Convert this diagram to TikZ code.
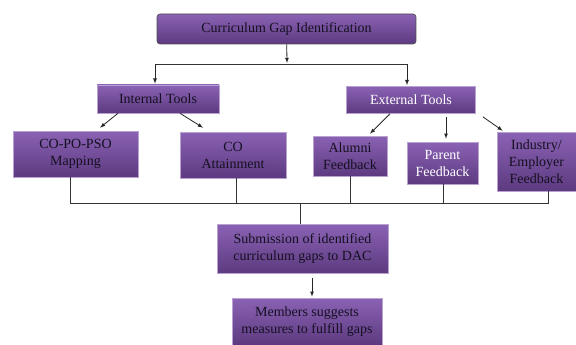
\documentclass[tikz,border=0pt]{standalone}
\usepackage{fontspec}
\setmainfont{Liberation Serif}
\usetikzlibrary{positioning}
\usetikzlibrary{arrows.meta}
\definecolor{boxtop}{HTML}{8A62B4}
\definecolor{boxbot}{HTML}{5D3A80}
\definecolor{boxtxt}{HTML}{141020}
\tikzset{
    gapbox/.style = {rectangle, draw=boxtop!60!white, line width=0.6pt, top color=boxtop, bottom color=boxbot, align=center, text=boxtxt, font=\fontsize{14}{17}\selectfont, inner sep=1pt},
    gapboxw/.style = {gapbox, text=white},
    edgen/.style = {-latex, line width=0.8pt, black!85},
    linen/.style = {line width=0.8pt, black!80}
}
\begin{document}
\begin{tikzpicture}[x=1pt,y=-1pt]
\path[use as bounding box] (0,0) rectangle (576,345);
%
\node[gapbox,rounded corners=3pt,draw=black!70,minimum width=259pt,minimum height=30pt] at (286.5,29) (top) {Curriculum Gap Identification};
\node[gapbox,minimum width=122pt,minimum height=28pt] at (158,99) (int) {Internal Tools};
\node[gapboxw,minimum width=129pt,minimum height=27pt] at (411,100) (ext) {External Tools};
%
\node[gapbox,minimum width=125pt,minimum height=46pt] at (75.5,154) (copo) {CO-PO-PSO\\Mapping};
\node[gapbox,minimum width=106pt,minimum height=46pt] at (233,155) (coatt) {CO\\Attainment};
\node[gapbox,minimum width=74pt,minimum height=40pt] at (350,156) (alum) {Alumni\\Feedback};
\node[gapboxw,minimum width=71pt,minimum height=42pt] at (442.5,163) (par) {Parent\\Feedback};
\node[gapbox,minimum width=79pt,minimum height=59pt] at (536.5,161.5) (ind) {Industry/\\Employer\\Feedback};
%
\node[gapbox,minimum width=171pt,minimum height=49pt] at (302.5,248.5) (sub) {Submission of identified\\curriculum gaps to DAC};
\node[gapbox,minimum width=150pt,minimum height=47pt] at (307,321.5) (mem) {Members suggests\\measures to fulfill gaps};
%
\coordinate (hub) at (287,64);
\coordinate (bus) at (300,203);
%
\draw[edgen] (top) -- ([yshift=1pt]hub);
\draw[linen] ([xshift=-3pt]int.north |- hub) -- ([xshift=-4pt]ext.north |- hub);
\draw[edgen] ([xshift=-3pt]int.north |- hub) -- ([xshift=-3pt,yshift=1pt]int.north);
\draw[edgen] ([xshift=-4pt]ext.north |- hub) -- ([xshift=-4pt,yshift=1pt]ext.north);
%
\draw[edgen] ([xshift=-40pt]int.south) -- ([xshift=24.5pt,yshift=3pt]copo.north);
\draw[edgen] ([xshift=22pt]int.south) -- ([xshift=-30pt,yshift=4pt]coatt.north);
\draw[edgen] ([xshift=-21pt]ext.south) -- ([xshift=20pt,yshift=2pt]alum.north);
\draw[edgen] ([xshift=35pt,yshift=-3pt]ext.south) -- ([xshift=3.5pt,yshift=3pt]par.north);
\draw[edgen] ([xshift=7pt,yshift=-3pt]ext.south east) -- ([xshift=6pt,yshift=1pt]ind.north west);
%
\draw[linen] ([xshift=-5.5pt]copo.south) |- ([xshift=11.5pt]ind.south |- bus) -- ([xshift=11.5pt]ind.south);
\draw[linen] ([xshift=3pt]coatt.south) -- ([xshift=3pt]coatt.south |- bus);
\draw[linen] (alum.south) -- (alum.south |- bus);
\draw[linen] ([xshift=0.5pt]par.south) -- ([xshift=0.5pt]par.south |- bus);
\draw[linen] (bus) -- (bus |- sub.north);
%
\draw[edgen] ([xshift=9.5pt,yshift=-5pt]sub.south) -- ([xshift=5pt,yshift=1pt]mem.north);
\end{tikzpicture}
\end{document}
